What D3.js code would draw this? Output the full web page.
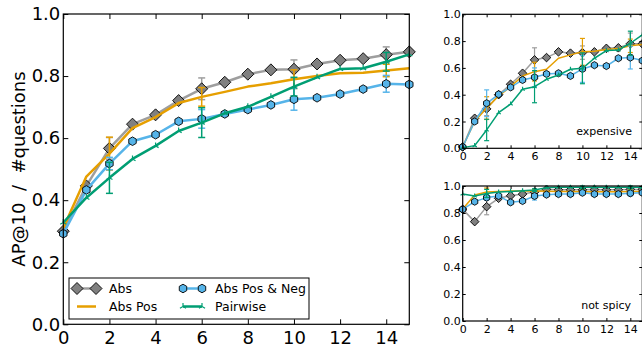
<!DOCTYPE html>
<html>
<head>
<meta charset="utf-8">
<script src="https://cdn.jsdelivr.net/npm/d3@7/dist/d3.min.js"></script>
<style>
body { margin: 0; background: #fff; }
text { font-family: "DejaVu Sans", sans-serif; }
</style>
</head>
<body>
<div id="chart"></div>
<script>
// x = number of questions, error bars every 4 steps
var steps = [0, 1, 2, 3, 4, 5, 6, 7, 8, 9, 10, 11, 12, 13, 14, 15];
var errSteps = [2, 6, 10, 14];
var seriesNames = ["Abs", "Abs Pos", "Abs Pos & Neg", "Pairwise"];
var xTicks = [0, 2, 4, 6, 8, 10, 12, 14];
var yTicks = [0, 0.2, 0.4, 0.6, 0.8, 1.0];

// main panel (all)
var allAbs      = [0.30, 0.446, 0.567, 0.645, 0.675, 0.721, 0.759, 0.780, 0.806, 0.820, 0.822, 0.839, 0.851, 0.856, 0.869, 0.878];
var allAbsPos   = [0.31, 0.476, 0.550, 0.632, 0.668, 0.713, 0.733, 0.749, 0.766, 0.777, 0.790, 0.800, 0.809, 0.811, 0.818, 0.825];
var allAbsPN    = [0.292, 0.433, 0.518, 0.590, 0.611, 0.654, 0.662, 0.678, 0.692, 0.707, 0.725, 0.730, 0.742, 0.758, 0.775, 0.773];
var allPair     = [0.328, 0.408, 0.472, 0.533, 0.575, 0.623, 0.650, 0.680, 0.701, 0.733, 0.766, 0.796, 0.823, 0.825, 0.846, 0.870];
var allAbsErr    = [0.035, 0.035, 0.03, 0.025];
var allAbsPosErr = [0.053, 0.03, 0.03, 0.02];
var allAbsPNErr  = [0.02, 0.03, 0.035, 0.027];
var allPairErr   = [0.05, 0.048, 0.03, 0.03];

// "expensive"
var expAbs      = [0.01, 0.224, 0.294, 0.40, 0.478, 0.56, 0.66, 0.677, 0.72, 0.71, 0.714, 0.72, 0.746, 0.75, 0.78, 0.78];
var expAbsPos   = [0.01, 0.20, 0.30, 0.39, 0.46, 0.54, 0.572, 0.59, 0.672, 0.697, 0.72, 0.725, 0.737, 0.745, 0.765, 0.775];
var expAbsPN    = [0.01, 0.20, 0.336, 0.403, 0.455, 0.51, 0.53, 0.555, 0.56, 0.54, 0.592, 0.62, 0.614, 0.672, 0.677, 0.654];
var expPair     = [0.005, 0.02, 0.137, 0.266, 0.33, 0.44, 0.46, 0.515, 0.547, 0.59, 0.597, 0.672, 0.729, 0.734, 0.784, 0.846];
var expAbsErr    = [0.05, 0.09, 0.05, 0.08];
var expAbsPosErr = [0.085, 0.07, 0.1, 0.05];
var expAbsPNErr  = [0.1, 0.07, 0.1, 0.085];
var expPairErr   = [0.08, 0.12, 0.115, 0.09];

// "not spicy"
var nsAbs       = [0.827, 0.736, 0.847, 0.909, 0.928, 0.94, 0.955, 0.975, 0.972, 0.972, 0.972, 0.974, 0.972, 0.972, 0.975, 0.975];
var nsAbsPos    = [0.83, 0.933, 0.955, 0.96, 0.963, 0.963, 0.963, 0.962, 0.96, 0.96, 0.958, 0.958, 0.958, 0.958, 0.96, 0.96];
var nsAbsPN     = [0.827, 0.884, 0.914, 0.926, 0.879, 0.889, 0.926, 0.936, 0.94, 0.94, 0.95, 0.94, 0.94, 0.94, 0.946, 0.95];
var nsPair      = [0.94, 0.926, 0.945, 0.955, 0.96, 0.965, 0.97, 0.988, 0.99, 0.99, 0.99, 0.99, 0.99, 0.99, 0.99, 0.99];
var nsAbsErr     = [0.06, 0.02, 0.01, 0.01];
var nsAbsPosErr  = [0.03, 0.01, 0.02, 0.01];
var nsAbsPNErr   = [0.02, 0.03, 0.01, 0.02];
var nsPairErr    = [0.03, 0.01, 0.01, 0.01];

var styles = [
    {line: "#9e9e9e", fill: "#808080", marker: "diamond"},
    {line: "#e69f00", fill: "#e69f00", marker: "none"},
    {line: "#56b4e9", fill: "#56b4e9", marker: "hex"},
    {line: "#009e73", fill: "#009e73", marker: "tri"}
];

var svg = d3.select("#chart")
    .append("svg")
    .attr("width", 642)
    .attr("height", 345)
    .style("display", "block");

svg.append("rect").attr("width", 642).attr("height", 345).attr("fill", "#fff");

function markerPath(type, r) {
    if (type == "diamond") {
        return "M0," + (-r) + "L" + r + ",0L0," + r + "L" + (-r) + ",0Z";
    }
    if (type == "hex") {
        var p = d3.range(6).map(function(i) {
            var a = Math.PI / 3 * i - Math.PI / 2;
            return [r * Math.cos(a), r * Math.sin(a)];
        });
        return "M" + p.join("L") + "Z";
    }
    if (type == "tri") {
        return "M0,0L0," + (-r) + "M0,0L" + (-r * 0.87) + "," + (r * 0.5) + "M0,0L" + (r * 0.87) + "," + (r * 0.5);
    }
    return "";
}

function drawMarker(g, type, x, y, r, st) {
    if (type == "none") return;
    var m = g.append("path")
        .attr("d", markerPath(type, r))
        .attr("transform", "translate(" + x + "," + y + ")");
    if (type == "tri") {
        m.attr("fill", "none").attr("stroke", st.line).attr("stroke-width", 1.2);
    } else {
        m.attr("fill", st.fill).attr("stroke", "#000").attr("stroke-width", 0.9);
    }
}

function drawPanel(cfg) {
    var x = d3.scaleLinear().domain([0, 15]).range([cfg.left, cfg.right]);
    var y = d3.scaleLinear().domain([0, 1]).range([cfg.bottom, cfg.top]);
    var g = svg.append("g");
    var fs = cfg.fontSize;

    var line = d3.line()
        .x(function(d, i) { return x(steps[i]) })
        .y(function(d) { return y(d) });

    cfg.series.forEach(function(vals, k) {
        var st = styles[k];
        var s = g.append("g");
        // error bars
        errSteps.forEach(function(xs, j) {
            var v = vals[steps.indexOf(xs)], e = cfg.errs[k][j];
            var px = x(xs);
            s.append("line").attr("x1", px).attr("x2", px)
                .attr("y1", y(v - e)).attr("y2", y(v + e))
                .attr("stroke", st.line).attr("stroke-width", cfg.errWidth);
            [v - e, v + e].forEach(function(c) {
                s.append("line").attr("x1", px - cfg.cap).attr("x2", px + cfg.cap)
                    .attr("y1", y(c)).attr("y2", y(c))
                    .attr("stroke", st.line).attr("stroke-width", cfg.errWidth);
            });
        });
        s.append("path")
            .attr("d", line(vals))
            .attr("fill", "none")
            .attr("stroke", st.line)
            .attr("stroke-width", cfg.lineWidth)
            .attr("stroke-linejoin", "round");
        vals.forEach(function(v, i) {
            var r = st.marker == "diamond" ? cfg.diamond : (st.marker == "hex" ? cfg.hex : cfg.tri);
            drawMarker(s, st.marker, x(steps[i]), y(v), r, st);
        });
    });

    // axes with inward ticks
    var bottom = g.append("g").attr("transform", "translate(0," + cfg.bottom + ")")
        .call(d3.axisBottom(x).tickValues(xTicks).tickSizeInner(-cfg.tickLen).tickSizeOuter(0).tickPadding(cfg.padX));
    var top = g.append("g").attr("transform", "translate(0," + cfg.top + ")")
        .call(d3.axisTop(x).tickValues(xTicks).tickSizeInner(-cfg.tickLen).tickSizeOuter(0).tickFormat(""));
    var left = g.append("g").attr("transform", "translate(" + cfg.left + ",0)")
        .call(d3.axisLeft(y).tickValues(yTicks).tickSizeInner(-cfg.tickLen).tickSizeOuter(0).tickPadding(cfg.padY).tickFormat(d3.format(".1f")));
    var right = g.append("g").attr("transform", "translate(" + cfg.right + ",0)")
        .call(d3.axisRight(y).tickValues(yTicks).tickSizeInner(-cfg.tickLen).tickSizeOuter(0).tickFormat(""));
    [bottom, top, left, right].forEach(function(a) {
        a.select(".domain").remove();
        a.selectAll("line").attr("stroke", "#000").attr("stroke-width", 1);
        a.selectAll("text").attr("font-family", "DejaVu Sans, sans-serif")
            .attr("font-size", fs).attr("fill", "#000");
    });

    g.append("rect")
        .attr("x", cfg.left).attr("y", cfg.top)
        .attr("width", cfg.right - cfg.left).attr("height", cfg.bottom - cfg.top)
        .attr("fill", "none").attr("stroke", "#000").attr("stroke-width", 1.2);

    if (cfg.label) {
        g.append("text")
            .attr("x", cfg.labelX).attr("y", cfg.labelY)
            .attr("text-anchor", "end")
            .attr("font-size", fs)
            .text(cfg.label);
    }
    return {x: x, y: y};
}

drawPanel({
    left: 63.3, right: 409.3, top: 14, bottom: 324.3,
    fontSize: 18, tickLen: 5, padX: 6.5, padY: 3,
    lineWidth: 2.5, errWidth: 1.5, cap: 3.5, diamond: 6, hex: 4.3, tri: 3.5,
    series: [allAbs, allAbsPos, allAbsPN, allPair],
    errs: [allAbsErr, allAbsPosErr, allAbsPNErr, allPairErr]
});

drawPanel({
    left: 462.7, right: 642.3, top: 14.3, bottom: 148.3,
    fontSize: 11, tickLen: 3, padX: 4, padY: 2,
    lineWidth: 1.5, errWidth: 1.2, cap: 2.5, diamond: 4.3, hex: 3.6, tri: 2.5,
    series: [expAbs, expAbsPos, expAbsPN, expPair],
    errs: [expAbsErr, expAbsPosErr, expAbsPNErr, expPairErr],
    label: "expensive", labelX: 632, labelY: 135
});

drawPanel({
    left: 462.7, right: 642.3, top: 186, bottom: 321,
    fontSize: 11, tickLen: 3, padX: 4, padY: 2,
    lineWidth: 1.5, errWidth: 1.2, cap: 2.5, diamond: 4.3, hex: 3.6, tri: 2.5,
    series: [nsAbs, nsAbsPos, nsAbsPN, nsPair],
    errs: [nsAbsErr, nsAbsPosErr, nsAbsPNErr, nsPairErr],
    label: "not spicy", labelX: 631, labelY: 308.5
});

// y axis title (keep the double spaces around the slash)
svg.append("text")
    .attr("transform", "translate(25,169) rotate(-90)")
    .attr("text-anchor", "middle")
    .attr("font-size", 18)
    .style("white-space", "pre")
    .text("AP@10  /  #questions");

// legend
var legend = svg.append("g");
legend.append("rect")
    .attr("x", 69).attr("y", 278).attr("width", 240).attr("height", 41)
    .attr("fill", "#fff").attr("stroke", "#000").attr("stroke-width", 1);

var legendPos = [[77, 288.5], [77, 306.5], [183, 288.5], [183, 306.5]];
seriesNames.forEach(function(name, k) {
    var st = styles[k];
    var lx = legendPos[k][0], ly = legendPos[k][1];
    legend.append("line")
        .attr("x1", lx).attr("x2", lx + 19).attr("y1", ly).attr("y2", ly)
        .attr("stroke", st.line).attr("stroke-width", 2.5);
    var r = st.marker == "diamond" ? 6 : (st.marker == "hex" ? 4.3 : 3.5);
    drawMarker(legend, st.marker, lx, ly, r, st);
    drawMarker(legend, st.marker, lx + 19, ly, r, st);
    legend.append("text")
        .attr("x", lx + 32).attr("y", ly)
        .attr("dy", "0.35em")
        .attr("font-size", 12.5)
        .text(name);
});
</script>
</body>
</html>
